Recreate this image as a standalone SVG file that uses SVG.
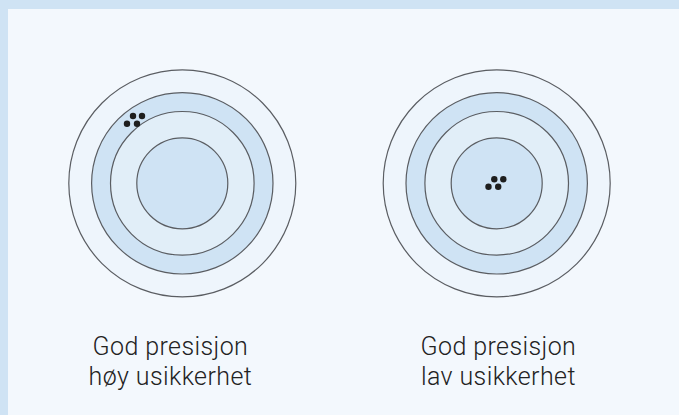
<svg xmlns="http://www.w3.org/2000/svg" width="679" height="415" viewBox="0 0 679 415">
<style>
.ring{stroke:#5a5d62;stroke-width:1.2}
.c1{fill:#eef5fc}
.c2{fill:#cfe3f4}
.c3{fill:#e1eef8}
.c4{fill:#cfe3f4}
.dot{fill:#1e1e1e}
.lbl{font-family:Roboto,"Liberation Sans",sans-serif;font-size:25px;font-weight:300;letter-spacing:0.4px;fill:#222;text-anchor:middle}
</style>
<rect x="0" y="0" width="679" height="415" fill="#cfe3f4"/>
<rect x="8" y="9" width="671" height="406" fill="#f3f8fd"/>
<g id="target-left">
<circle class="ring c1" cx="182.3" cy="183.3" r="113.5"/>
<circle class="ring c2" cx="182.3" cy="183.3" r="90.7"/>
<circle class="ring c3" cx="182.3" cy="183.3" r="71.8"/>
<circle class="ring c4" cx="182.3" cy="183.3" r="45.5"/>
<circle class="dot" cx="133" cy="116" r="3.2"/>
<circle class="dot" cx="142" cy="116" r="3.2"/>
<circle class="dot" cx="127" cy="123.7" r="3.2"/>
<circle class="dot" cx="137" cy="123.7" r="3.2"/>
</g>
<g id="target-right">
<circle class="ring c1" cx="496.7" cy="183.3" r="113.5"/>
<circle class="ring c2" cx="496.7" cy="183.3" r="90.7"/>
<circle class="ring c3" cx="496.7" cy="183.3" r="71.8"/>
<circle class="ring c4" cx="496.7" cy="183.3" r="45.5"/>
<circle class="dot" cx="494.3" cy="179.2" r="3.2"/>
<circle class="dot" cx="503.3" cy="179.2" r="3.2"/>
<circle class="dot" cx="488.5" cy="186.8" r="3.2"/>
<circle class="dot" cx="498.2" cy="186.8" r="3.2"/>
</g>
<g id="label-left">
<text class="lbl" x="170.4" y="355">God presisjon</text>
<text class="lbl" x="170.4" y="385">høy usikkerhet</text>
</g>
<g id="label-right">
<text class="lbl" x="498.4" y="355">God presisjon</text>
<text class="lbl" x="498.4" y="385">lav usikkerhet</text>
</g>
</svg>
